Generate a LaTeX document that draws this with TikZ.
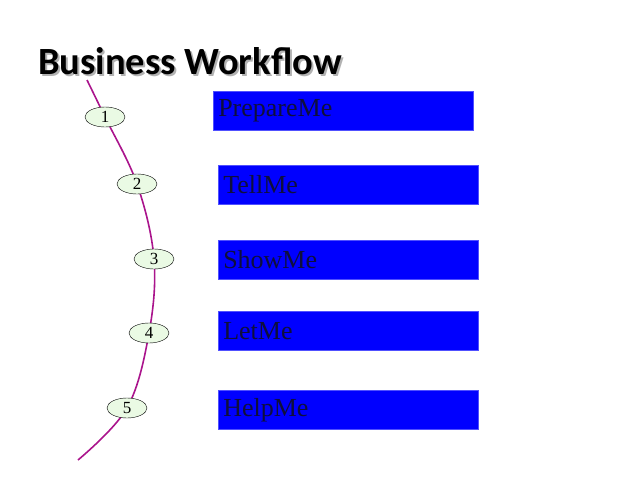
\documentclass[tikz,border=0pt]{standalone}
\usepackage{fontspec}
\setmainfont{Liberation Serif}
\newfontfamily\titlefont{Carlito}
\tikzset{
 boxs/.style={fill={rgb,255:red,0;green,0;blue,255},draw={rgb,255:red,80;green,80;blue,255},line width=0.5pt,minimum width=260pt,minimum height=39pt,anchor=north west,text width=250pt,align=left,font=\fontsize{26}{26}\selectfont,text={rgb,255:red,15;green,15;blue,60},inner sep=4pt},
 num/.style={ellipse,draw=black,fill={rgb,255:red,234;green,250;blue,228},minimum width=40pt,minimum height=20pt,inner sep=0pt,font=\fontsize{17}{17}\selectfont},
}
\usetikzlibrary{shapes.geometric}
\begin{document}
\begin{tikzpicture}[x=1pt,y=-1pt]
\useasboundingbox (0,0) rectangle (638,479);
\node[anchor=base west,inner sep=0pt,font=\titlefont\bfseries\fontsize{38.5}{38.5}\selectfont,text=gray!60] at (40,76) {Business Workflow};
\node[anchor=base west,inner sep=0pt,font=\titlefont\bfseries\fontsize{38.5}{38.5}\selectfont] (title) at (38,74) {Business Workflow};
\coordinate (s) at (87,80);
\coordinate (e) at (78,460);
\draw[line width=1.6pt,color={rgb,255:red,170;green,20;blue,140}] plot[smooth,tension=0.6] coordinates {(87,80) (105,117) (137,184) (154,259) (149,333) (127,408) (78,460)};
\node[num] (n1) at (105,117) {1};
\node[num] (n2) at (137,184) {2};
\node[num] (n3) at (154,259) {3};
\node[num] (n4) at (149,333) {4};
\node[num] (n5) at (127,408) {5};
\node[boxs] (b1) at (213,91) {PrepareMe};
\node[boxs] (b2) at (218,165) {TellMe};
\node[boxs] (b3) at (218,240) {ShowMe};
\node[boxs] (b4) at (218,311) {LetMe};
\node[boxs] (b5) at (218,390) {HelpMe};
\end{tikzpicture}
\end{document}
